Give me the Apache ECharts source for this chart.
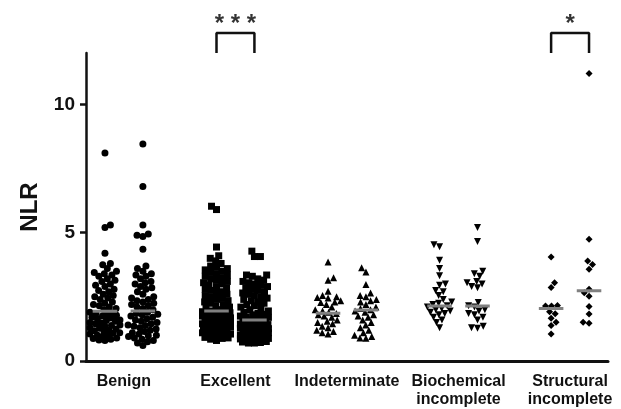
<!DOCTYPE html>
<html><head><meta charset="utf-8">
<script src="https://cdn.jsdelivr.net/npm/echarts@6/dist/echarts.min.js"></script>
<style>html,body{margin:0;padding:0;background:#fff}#c{width:621px;height:409px}</style>
</head><body><div id="c"></div>
<script>
const categories = ['Benign','Excellent','Indeterminate','Biochemical\nincomplete','Structural\nincomplete'];
const yTicks = [0,5,10];

const benign1 = [8.1,5.3,5.2,4.2,3.8,3.75,3.6,
 3.5,3.45,3.4,3.35,3.3,3.2,3.15,3.1,3.0,2.95,2.9,2.8,2.75,2.7,2.6,2.55,2.5,2.45,2.4,2.3,2.25,2.2,2.15,2.1,2.05,2.0,
 1.9,1.88,1.85,1.8,1.78,1.75,1.7,1.68,1.65,1.6,1.58,1.55,1.5,1.48,1.45,1.4,1.38,1.35,1.3,1.28,1.25,1.2,1.18,1.15,1.1,1.08,1.05,1.0,0.98,0.95,0.9,0.88,0.85,0.82,0.8];
const benign2 = [8.45,6.8,5.3,4.95,4.9,4.85,4.35,3.7,3.6,
 3.5,3.4,3.35,3.3,3.2,3.1,3.05,3.0,2.9,2.85,2.8,2.7,2.6,2.5,2.45,2.4,2.35,2.3,2.25,2.2,2.15,2.1,2.05,2.0,
 1.9,1.85,1.82,1.8,1.75,1.7,1.65,1.6,1.55,1.5,1.45,1.4,1.38,1.35,1.3,1.25,1.2,1.15,1.1,1.05,1.0,0.98,0.95,0.9,0.85,0.8,0.75,0.7,0.6];
const excellent1 = [6.03,5.9,4.44,4.1,4.0,3.9,3.8,
 3.7,3.65,3.6,3.55,3.5,3.45,3.4,3.35,3.3,3.25,3.2,3.15,3.1,3.05,3.0,2.95,2.9,2.85,2.8,2.75,2.7,2.65,2.6,2.55,2.5,2.45,2.4,2.35,2.3,2.25,2.2,2.15,2.1,2.05,2.0,1.98,
 1.95,1.92,1.9,1.88,1.85,1.82,1.8,1.78,1.75,1.72,1.7,1.68,1.65,1.62,1.6,1.58,1.55,1.52,1.5,1.48,1.45,1.42,1.4,1.38,1.35,1.32,1.3,1.28,1.25,1.22,1.2,1.18,1.15,1.12,1.1,1.05,1.02,1.0,0.98,0.95,0.92,0.9,0.88,0.85,0.8];
const excellent2 = [4.28,4.07,4.07,
 3.35,3.35,3.3,3.2,3.15,3.1,3.05,3.0,2.95,2.9,2.85,2.8,2.75,2.7,2.65,2.6,2.55,2.5,2.45,2.4,2.35,2.3,2.25,2.2,2.15,2.1,2.05,2.0,1.95,1.9,1.85,1.82,1.8,1.75,1.72,1.7,1.65,1.62,
 1.6,1.58,1.55,1.52,1.5,1.48,1.46,1.44,1.42,1.4,1.38,1.36,1.34,1.32,1.3,1.28,1.26,1.24,1.22,1.2,1.18,1.16,1.14,1.12,1.1,1.08,1.05,1.02,1.0,0.98,0.96,0.94,0.92,0.9,0.88,0.86,0.84,0.82,0.8,0.78,0.76,0.74,0.72,0.7,0.7];
const indeterminate1 = [3.86,3.24,3.15,2.72,2.55,2.5,2.47,2.45,2.35,2.3,2.28,2.2,2.1,2.0,1.95,1.9,1.85,1.8,1.75,1.7,1.6,1.55,1.5,1.45,1.35,1.3,1.2,1.15,1.1,1.05];
const indeterminate2 = [3.63,3.47,2.98,2.65,2.55,2.5,2.4,2.35,2.3,2.2,2.1,2.05,2.0,1.95,1.9,1.8,1.75,1.7,1.6,1.5,1.4,1.3,1.2,1.1,1.0,0.95,0.9,0.89];
const biochemical1 = [4.53,4.45,3.93,3.6,3.32,3.0,2.95,2.75,2.7,2.55,2.4,2.3,2.25,2.2,2.15,2.1,2.05,2.0,1.95,1.9,1.85,1.8,1.7,1.6,1.5,1.3];
const biochemical2 = [5.2,4.66,3.5,3.4,3.3,3.1,3.05,3.0,2.9,2.85,2.28,2.15,2.1,2.0,1.95,1.85,1.8,1.7,1.6,1.35,1.3,1.28];
const structural1 = [4.05,3.05,2.86,2.16,2.14,2.14,1.92,1.84,1.67,1.51,1.38,1.05];
const structural2 = [11.2,4.74,3.9,3.76,3.57,2.8,2.66,2.52,2.12,1.83,1.51,1.47];

const medians = [[1.94,1.95],[1.95,1.6],[1.86,1.99],[2.14,2.14],[2.05,2.74]];
const significance = [{group:1,text:'* * *'},{group:4,text:'*'}];

const groups = [[benign1,benign2],[excellent1,excellent2],[indeterminate1,indeterminate2],[biochemical1,biochemical2],[structural1,structural2]];
const symbols = [['circle',0,7],['rect',0,7],['triangle',0,7],['triangle',180,7],['diamond',0,7]];
const halfWidths = [15,14,13,13,12];

const grid = {left:86,right:13,top:53,bottom:46};
const xMin=-0.34, xMax=4.34, yMax=12;
const pxX = (621-grid.left-grid.right)/(xMax-xMin);
const pxY = (409-grid.top-grid.bottom)/yMax;
const colOff = 0.17, medHalf = 0.11;

function swarm(vals, d, maxHalf){
  const idx = vals.map((v,i)=>i).sort((a,b)=>vals[a]-vals[b]);
  const placed=[]; const off=new Array(vals.length);
  let toggle=1;
  for(const i of idx){
    const y = vals[i]*pxY;
    const near = placed.filter(p=>Math.abs(p.y-y)<d);
    const cands=[0];
    near.forEach(p=>{const w=Math.sqrt(d*d-(p.y-y)*(p.y-y)); cands.push(p.x-w,p.x+w);});
    toggle=-toggle;
    cands.sort((a,b)=>(Math.abs(a)-Math.abs(b)) || (toggle*(a-b)));
    let best=null;
    for(const c of cands){ if(Math.abs(c)<=maxHalf && near.every(p=>(p.x-c)*(p.x-c)+(p.y-y)*(p.y-y)>=d*d-1e-6)){best=c;break;} }
    if(best===null){
      let score=-1; best=0;
      for(let c=-maxHalf;c<=maxHalf+1e-9;c+=0.5){
        let md=Infinity;
        near.forEach(p=>{const q=(p.x-c)*(p.x-c)+(p.y-y)*(p.y-y); if(q<md) md=q;});
        if(md>score+1e-9){score=md;best=c;}
      }
    }
    placed.push({x:best,y}); off[i]=best;
  }
  return off;
}

const series=[];
groups.forEach((pair,g)=>{
  pair.forEach((vals,k)=>{
    const cx = g + (k===0?-colOff:colOff);
    const off = swarm(vals, 6, halfWidths[g]);
    series.push({type:'scatter', symbol:symbols[g][0], symbolRotate:symbols[g][1], symbolSize:symbols[g][2],
      itemStyle:{color:'#000', opacity:1}, silent:true, z:2,
      data: vals.map((v,i)=>[cx+off[i]/pxX, v])});
    series.push({type:'line', symbol:'none', silent:true, z:5,
      lineStyle:{color:'#808080', width:3},
      data:[[cx-medHalf, medians[g][k]],[cx+medHalf, medians[g][k]]]});
  });
});
significance.forEach(s=>{
  const x1=s.group-colOff, x2=s.group+colOff;
  series.push({type:'line', symbol:'none', silent:true, clip:false, z:5,
    lineStyle:{color:'#111', width:2.5},
    data:[[x1,12.0],[x1,12.78],[x2,12.78],[x2,12.0]]});
  series.push({type:'scatter', symbolSize:1, silent:true, clip:false, itemStyle:{color:'transparent'},
    label:{show:true, position:'inside', formatter:s.text, fontSize:24, fontWeight:'bold', color:'#000', fontFamily:'Liberation Sans, Arial'},
    data:[[s.group, 13.1]]});
});

const chart = echarts.init(document.getElementById('c'), null, {renderer:'canvas'});
chart.setOption({
  animation:false,
  backgroundColor:'#fff',
  grid:grid,
  xAxis:{type:'value', min:xMin, max:xMax,
    axisLine:{show:true, onZero:false, lineStyle:{color:'#111', width:3}},
    axisTick:{show:false}, splitLine:{show:false},
    axisLabel:{customValues:[0,1,2,3,4], formatter:v=>categories[Math.round(v)],
      fontSize:16, fontWeight:'bold', color:'#111', fontFamily:'Liberation Sans, Arial', margin:12, lineHeight:18}},
  yAxis:{type:'value', min:0, max:yMax, name:'NLR', nameLocation:'middle', nameRotate:90, nameGap:44,
    nameTextStyle:{fontSize:24, fontWeight:'bold', color:'#111', fontFamily:'Liberation Sans, Arial'},
    axisLine:{show:true, onZero:false, lineStyle:{color:'#111', width:2.5}},
    axisTick:{show:true, customValues:yTicks, length:6, lineStyle:{color:'#111', width:2.5}},
    splitLine:{show:false},
    axisLabel:{customValues:yTicks, fontSize:19, fontWeight:'bold', color:'#111', fontFamily:'Liberation Sans, Arial', margin:11}},
  series:series
});
</script></body></html>
